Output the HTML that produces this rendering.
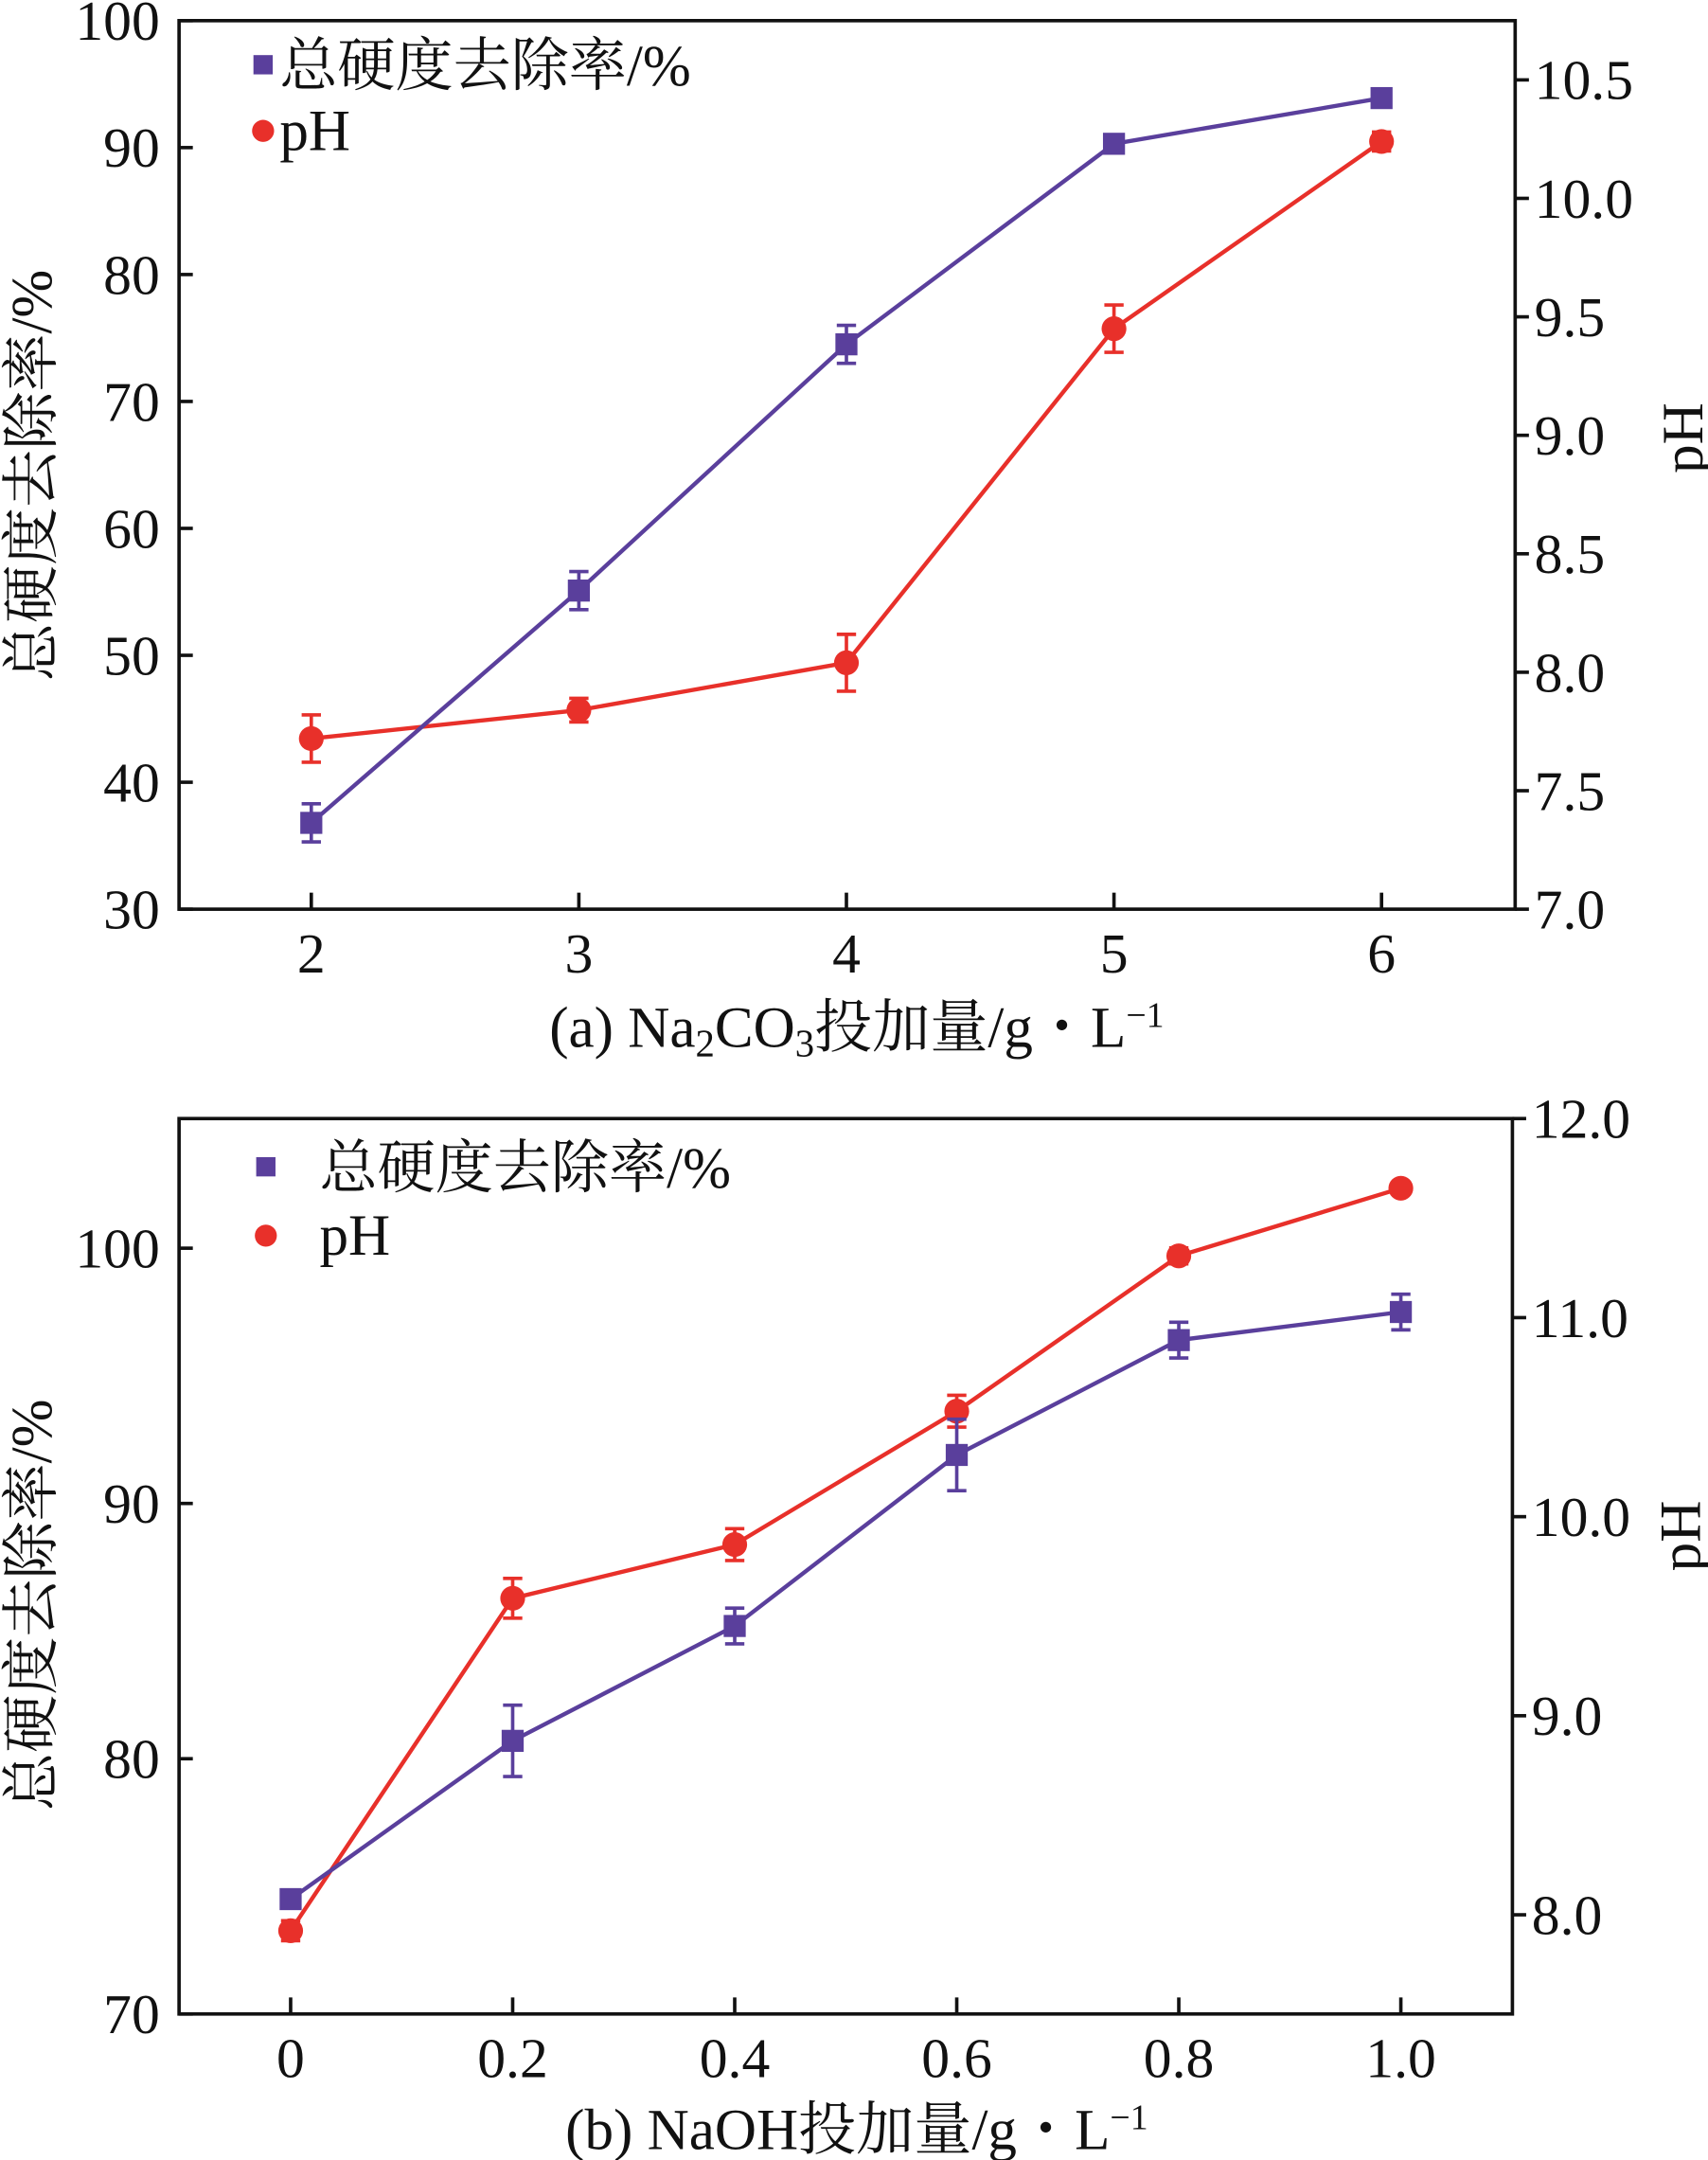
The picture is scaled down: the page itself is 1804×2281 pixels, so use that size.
<!DOCTYPE html>
<html><head><meta charset="utf-8">
<style>
html,body{margin:0;padding:0;background:#fff;}
svg{display:block;}
text{font-family:"Liberation Serif","Noto Serif CJK SC",serif;fill:#111;}
</style></head>
<body>
<svg id="fig" width="1804" height="2281" viewBox="0 0 1240 1568" preserveAspectRatio="none" xmlns="http://www.w3.org/2000/svg"></svg>
<script>
// Chart (a)
const aCategories = [2, 3, 4, 5, 6];
const aHardness = [36.8, 55.1, 74.5, 90.3, 93.9];
const aHardnessErr = [1.5, 1.5, 1.5, 0.4, 0.3];
const aPH = [7.72, 7.84, 8.04, 9.45, 10.24];
const aPHErr = [0.1, 0.05, 0.12, 0.1, 0.04];
const aLeftTicks = [30, 40, 50, 60, 70, 80, 90, 100];
const aRightTicks = ["7.0", "7.5", "8.0", "8.5", "9.0", "9.5", "10.0", "10.5"];
// Chart (b)
const bCategories = [0, 0.2, 0.4, 0.6, 0.8, 1.0];
const bCategoryLabels = ["0", "0.2", "0.4", "0.6", "0.8", "1.0"];
const bHardness = [74.5, 80.7, 85.2, 91.9, 96.4, 97.5];
const bHardnessErr = [0.2, 1.4, 0.7, 1.4, 0.7, 0.7];
const bPH = [7.92, 9.59, 9.86, 10.53, 11.31, 11.65];
const bPHErr = [0.05, 0.1, 0.08, 0.08, 0.04, 0.03];
const bLeftTicks = [70, 80, 90, 100];
const bRightTicks = ["8.0", "9.0", "10.0", "11.0", "12.0"];

const NS = "http://www.w3.org/2000/svg";
const svg = document.getElementById("fig");
function mk(tag, attrs, parent, txt) {
  const e = document.createElementNS(NS, tag);
  for (const k in attrs) e.setAttribute(k, attrs[k]);
  if (txt !== undefined) e.textContent = txt;
  (parent || svg).appendChild(e);
  return e;
}
const PURPLE = "#5a3f9c", RED = "#e8302a";

function drawChart(cfg) {
  const g = mk("g", {});
  
  
  const {L, R, T, B} = cfg;
  const x = v => cfg.x0 + (v - cfg.xmin) * cfg.xs;
  const yl = v => B - (v - cfg.lmin) / (cfg.lmax - cfg.lmin) * (B - T);
  const yr = v => B - (v - cfg.rmin) / (cfg.rmax - cfg.rmin) * (B - T);
  const frame = mk("rect", {x: L, y: T, width: R - L, height: B - T, fill: "none", stroke: "#111", "stroke-width": 2.5}, g);
  
  
  cfg.lticks.forEach(v => {
    const yy = yl(v);
    const t = mk("line", {x1: L, x2: L + 10, y1: yy, y2: yy, stroke: "#111", "stroke-width": 2.5}, g);
    
    
    const lb = mk("text", {x: L - 14, y: yy + 14, "text-anchor": "end", "font-size": 41}, g, String(v));
    
    
  });
  cfg.rticks.forEach(s => {
    const yy = yr(parseFloat(s));
    const t = mk("line", {x1: R, x2: R + 10, y1: yy, y2: yy, stroke: "#111", "stroke-width": 2.5}, g);
    
    
    const lb = mk("text", {x: R + 14, y: yy + 14, "font-size": 41}, g, s);
    
    
  });
  cfg.cats.forEach((c, i) => {
    const xx = x(c);
    const t = mk("line", {x1: xx, x2: xx, y1: B, y2: B - 12, stroke: "#111", "stroke-width": 2.5}, g);
    
    
    const lb = mk("text", {x: xx, y: B + 46, "text-anchor": "middle", "font-size": 41}, g, cfg.catLabels[i]);
    
    
  });
  function series(vals, errs, yf, color, shape, nm) {
    const pts = cfg.cats.map((c, i) => x(c) + "," + yf(vals[i])).join(" ");
    const pl = mk("polyline", {points: pts, fill: "none", stroke: color, "stroke-width": 3}, g);
    
    
    cfg.cats.forEach((c, i) => {
      const xx = x(c), yy = yf(vals[i]);
      const y1 = yf(vals[i] + errs[i]), y2 = yf(vals[i] - errs[i]);
      const eb = mk("path", {d: `M${xx},${y1}V${y2}M${xx-7},${y1}H${xx+7}M${xx-7},${y2}H${xx+7}`, stroke: color, "stroke-width": 2.5, fill: "none"}, g);
      
      
      let m;
      if (shape === "sq") m = mk("rect", {x: xx - 8, y: yy - 8, width: 16, height: 16, fill: color}, g);
      else m = mk("circle", {cx: xx, cy: yy, r: 9, fill: color}, g);
      
      
    });
  }
  series(cfg.ph, cfg.phErr, yr, RED, "ci", "ph");
  series(cfg.hard, cfg.hardErr, yl, PURPLE, "sq", "hardness");
  const lg = mk("g", {}, g);
  
  
  const s1 = mk("rect", {x: cfg.legX - 7, y: cfg.legY1 - 7, width: 14, height: 14, fill: PURPLE}, lg);
  
  
  const t1 = mk("text", {x: cfg.legTX, y: cfg.legY1 + 15, "font-size": 42}, lg, "总硬度去除率/%");
  
  
  const s2 = mk("circle", {cx: cfg.legX, cy: cfg.legY2, r: 8, fill: RED}, lg);
  
  
  const t2 = mk("text", {x: cfg.legTX, y: cfg.legY2 + 14, "font-size": 42}, lg, "pH");
  
  
  const yt = mk("text", {x: 0, y: 0, "font-size": 42, "text-anchor": "middle", transform: `translate(${L - 93},${cfg.ltitleY}) rotate(-90)`}, g, "总硬度去除率/%");
  
  
  const rt = mk("text", {x: 0, y: 0, "font-size": 42, "text-anchor": "middle", transform: `translate(${R + 136},${cfg.rtitleY}) rotate(-90)`}, g, "pH");
  
  
  return g;
}

drawChart({name: "chart-a", L: 130, R: 1100, T: 15, B: 660, x0: 226, xmin: 2, xs: 194.25,
  lmin: 30, lmax: 100, rmin: 7.0, rmax: 10.5 + (58 - 15) / 172,
  cats: aCategories, catLabels: aCategories.map(String), lticks: aLeftTicks, rticks: aRightTicks,
  hard: aHardness, hardErr: aHardnessErr, ph: aPH, phErr: aPHErr,
  legX: 191, legY1: 47, legY2: 95, legTX: 203, ltitleY: 345, rtitleY: 318});
drawChart({name: "chart-b", L: 130, R: 1098, T: 812, B: 1462, x0: 211, xmin: 0, xs: 806,
  lmin: 70, lmax: 70 + (1462 - 812) / 18.53, rmin: 8.0 - (1462 - 1390) / 144.5, rmax: 12.0,
  cats: bCategories, catLabels: bCategoryLabels, lticks: bLeftTicks, rticks: bRightTicks,
  hard: bHardness, hardErr: bHardnessErr, ph: bPH, phErr: bPHErr,
  legX: 193, legY1: 847, legY2: 897, legTX: 232, ltitleY: 1165, rtitleY: 1115});

const xa = mk("text", {x: 622, y: 760, "text-anchor": "middle", "font-size": 42});


xa.innerHTML = '(a) Na<tspan baseline-shift="-25%" font-size="28">2</tspan>CO<tspan baseline-shift="-25%" font-size="28">3</tspan>投加量/g・L<tspan baseline-shift="super" font-size="26">−1</tspan>';
const xb = mk("text", {x: 622, y: 1560, "text-anchor": "middle", "font-size": 42});


xb.innerHTML = '(b) NaOH投加量/g・L<tspan baseline-shift="super" font-size="26">−1</tspan>';
</script>
</body></html>
